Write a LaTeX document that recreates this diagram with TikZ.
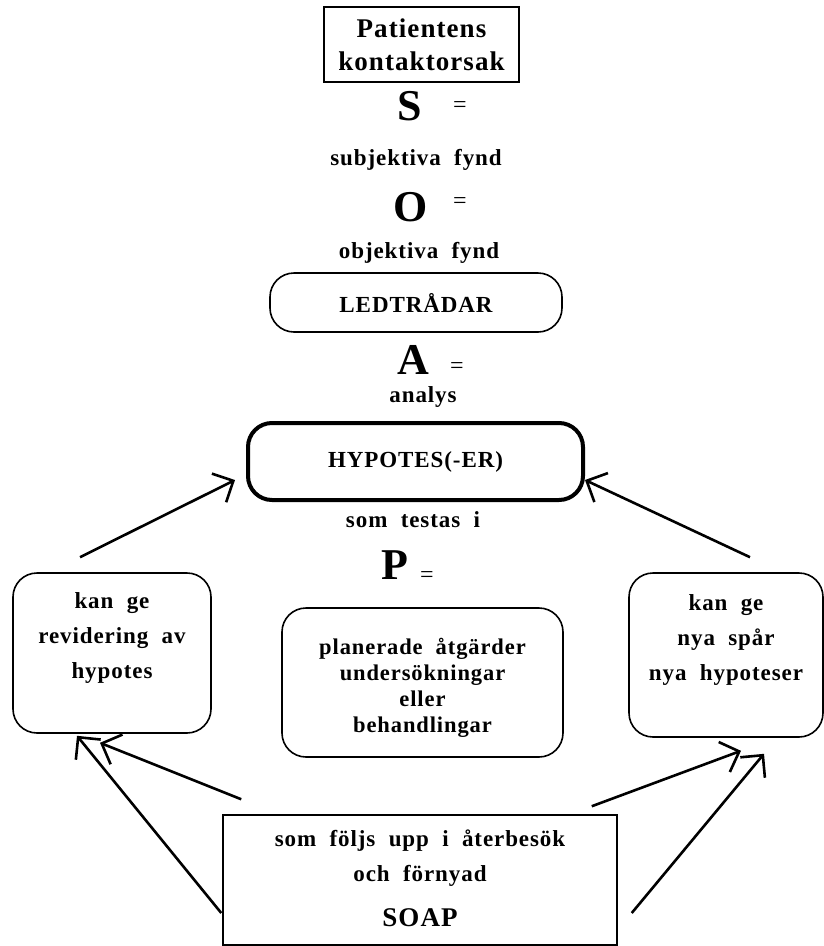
\documentclass[tikz,border=0pt]{standalone}
\usepackage{fontspec}
\setmainfont{Liberation Serif}[LetterSpace=4,WordSpace=2]
\usetikzlibrary{arrows.meta,positioning,calc}
\newcommand{\boxfont}{\fontsize{23}{35}\selectfont\bfseries}
\newcommand{\midfont}{\fontsize{22.5}{26}\selectfont\bfseries}
\newcommand{\headfont}{\fontsize{27}{33}\selectfont\bfseries}
\tikzset{
	sbox/.style={
		draw,
		line width=1.6pt,
		rounded corners=24pt,
		align=center,
		inner sep=0pt,
		font=\boxfont
	},
	tbox/.style={draw, line width=1.5pt, align=center, inner sep=0pt},
	lbl/.style={inner sep=0pt, font=\boxfont},
	bigl/.style={inner sep=0pt, font=\fontsize{44}{44}\selectfont\bfseries},
	eqs/.style={inner sep=0pt, font=\fontsize{24}{24}\selectfont},
	sarr/.style={-{Straight Barb[length=16pt,width=32pt]}, line width=2.6pt}
}
\begin{document}
\begin{tikzpicture}[x=1pt, y=-1pt]
	\useasboundingbox (0,0) rectangle (824,946);
	\node[tbox, minimum width=195, minimum height=75, font=\headfont] (orsak) at (421.5,44.5) {Patientens\\kontaktorsak};
	\node[bigl] (s) at (410,106) {S};
	\node[eqs] (seq) at (460,107) {=};
	\node[lbl] (subj) at (416,160) {subjektiva fynd};
	\node[bigl] (o) at (411,207) {O};
	\node[eqs] (oeq) at (460,203) {=};
	\node[lbl] (obj) at (419,253) {objektiva fynd};
	\node[sbox, minimum width=292, minimum height=59] (led) at (416,302.5) {LEDTRÅDAR};
	\node[bigl] (a) at (413,360) {A};
	\node[eqs] (aeq) at (457,368) {=};
	\node[lbl] (analys) at (423,397) {analys};
	\node[sbox, line width=4pt, minimum width=335, minimum height=77] (hyp) at (415.5,461.5) {HYPOTES(-ER)};
	\node[lbl] (testas) at (413,520) {som testas i};
	\node[bigl] (p) at (395,565) {P};
	\node[eqs] (peq) at (427,577) {=};
	\node[sbox, minimum width=198, minimum height=160] (rev) at (112,653) {kan ge\\revidering av\\hypotes\\\mbox{}};
	\node[sbox, minimum width=281, minimum height=149, font=\midfont] (plan) at (422.5,682.5) {\rule{0pt}{26pt}planerade åtgärder\\undersökningar\\eller\\behandlingar};
	\node[sbox, minimum width=194, minimum height=164] (spar) at (726,655) {kan ge\\nya spår\\nya hypoteser\\\mbox{}};
	\node[tbox, minimum width=394, minimum height=130, font=\boxfont] (soap) at (420,880) {som följs upp i återbesök\\och förnyad\\[10pt]{\fontsize{27}{27}\selectfont SOAP\rule[-4pt]{0pt}{4pt}}};
	\draw[sarr] ([shift={(-32,-15)}]rev.north) -- ([shift={(-11,18.5)}]hyp.west);
	\draw[sarr] ([shift={(24,-15)}]spar.north) -- ([shift={(0,18.5)}]hyp.east);
	\draw[sarr] ([shift={(-1,33)}]soap.west) -- ([shift={(-35,2)}]rev.south);
	\draw[sarr] ([shift={(19,-15)}]soap.north west) -- ([shift={(-12,9)}]rev.south);
	\draw[sarr] ([shift={(-26,-8)}]soap.north east) -- ([shift={(15,13)}]spar.south);
	\draw[sarr] ([shift={(14,33)}]soap.east) -- ([shift={(38,16)}]spar.south);
\end{tikzpicture}
\end{document}
